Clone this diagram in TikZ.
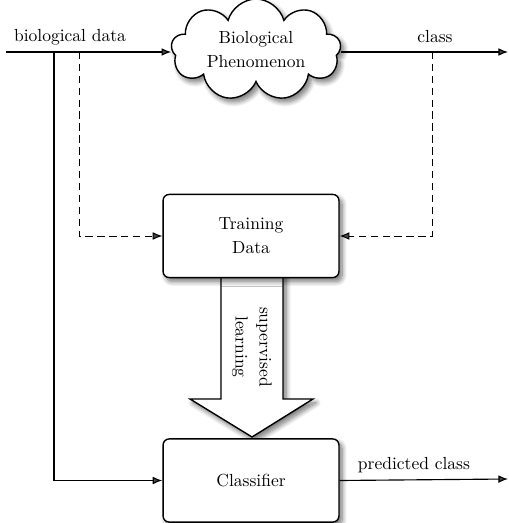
\documentclass[tikz,border=0pt]{standalone}
\usetikzlibrary{arrows.meta,shapes.symbols,shadows.blur,calc}
\begin{document}
\begin{tikzpicture}[x=0.5714pt,y=-0.5714pt,
  txt/.style={font=\fontsize{10}{13.7}\selectfont, align=center, inner sep=0pt},
  shade/.style={blur shadow={shadow xshift=1.8pt, shadow yshift=-2.2pt, shadow blur radius=2.8pt, shadow blur steps=10, shadow opacity=55}},
  box/.style={txt, draw, line width=0.8pt, rounded corners=3.5pt, fill=white, shade,
              minimum width=100.5pt, minimum height=47.5pt},
  wire/.style={line width=0.65pt, -{Latex[length=5.5pt,width=4.4pt]}},
  dwire/.style={wire, line width=0.55pt, dash pattern=on 4.2pt off 2.6pt}]
  \useasboundingbox (0,0) rectangle (509,523);

  % supervised-learning arrow between the two boxes
  \draw[line width=0.8pt, fill=white, shade, line join=miter]
    (221,272) -- (283,272) -- (283,399) -- (313,399) -- (252,437) -- (190,399) -- (221,399) -- cycle;
  \node[txt, rotate=-90] (sl) at (252,347) {supervised\\learning};

  % boxes
  \node[cloud, cloud puffs=9, cloud puff arc=150, aspect=2, draw, line width=0.8pt,
        fill=white, shade, txt, minimum width=97pt, minimum height=49pt] (bio) at (256,50)
        {Biological\\Phenomenon};
  \node[box] (td) at (251,236) {Training\\Data};
  \node[box] (cls) at (251,480.5) {Classifier};

  % wire end points and branch points
  \coordinate (in) at (6,52);
  \coordinate (out) at (508,52);
  \coordinate (pout) at (508,479);
  \coordinate (ja) at (54,52);
  \coordinate (jb) at (79,52);
  \coordinate (jc) at (432,52);

  \draw[wire] (in) -- (in -| bio.west);
  \draw[wire] (out -| bio.east) -- (out);
  \draw[wire, -] (ja) -- (ja |- cls.west);
  \draw[wire] (ja |- cls.west) -- (cls.west);
  \draw[dwire] (jb) |- (td.west);
  \draw[dwire] (jc) |- (td.east);
  \draw[wire] (cls.east) -- (pout);

  % labels
  \node[txt] (lbd) at (70,37) {biological data};
  \node[txt] (lcl) at (435,37) {class};
  \node[txt] (lpc) at (414,465) {predicted class};
\end{tikzpicture}
\end{document}
